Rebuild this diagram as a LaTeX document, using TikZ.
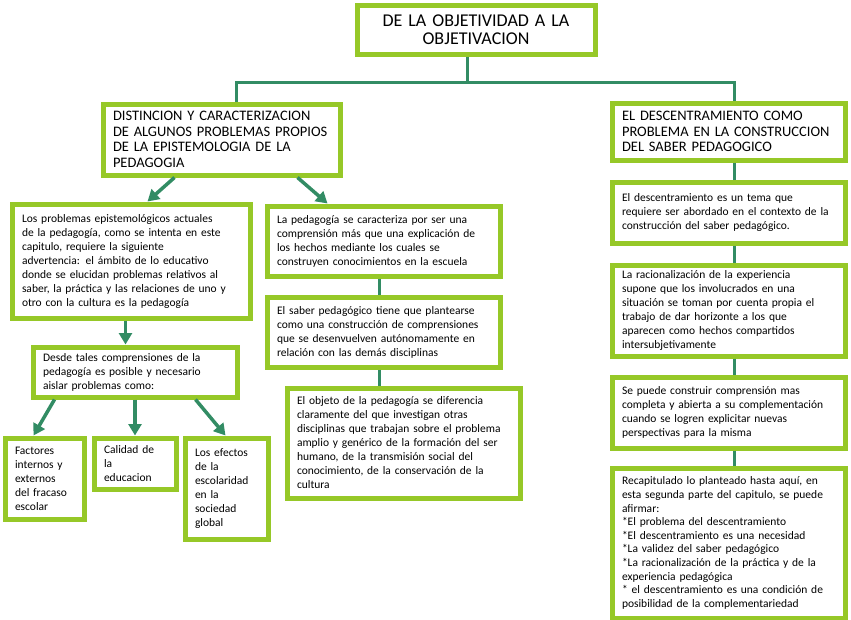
\documentclass[tikz,border=0pt]{standalone}
\usepackage{fontspec}
\setmainfont{Carlito}
\usepackage{xcolor}
\definecolor{verdecaja}{RGB}{150,200,40}
\definecolor{verdelinea}{RGB}{50,140,100}
\usepackage{tikz}
\usetikzlibrary{arrows.meta}

\begin{document}
\begin{tikzpicture}[
  x=1pt, y=-1pt,
  caja/.style={
    draw=verdecaja,
    line width=5pt,
    fill=white,
    anchor=north west,
    align=left,
    inner xsep=10pt,
    inner ysep=4pt,
    font=\fontsize{11.5}{14}\selectfont
  },
  cabeza/.style={caja,font=\fontsize{14.5}{15.5}\selectfont},
  flecha/.style={-{Triangle[length=4mm,width=4.5mm]},line width=3.5pt,verdelinea},
  linea/.style={line width=3pt,verdelinea}
]
\useasboundingbox (0,0) rectangle (851,619);
% titulo y cabeceras
\node[caja,align=center,text width=218pt,minimum height=49pt,font=\fontsize{18}{18}\selectfont] (titulo) at (354.5,2.5) {DE LA OBJETIVIDAD A LA\\OBJETIVACION};
\node[cabeza,text width=217pt,minimum height=71pt] (distincion) at (100.5,101.5) {DISTINCION Y CARACTERIZACION\\DE ALGUNOS PROBLEMAS PROPIOS\\DE LA EPISTEMOLOGIA DE LA\\PEDAGOGIA};
\node[cabeza,text width=213pt,minimum height=57pt] (descentramiento) at (609.5,100.5) {EL DESCENTRAMIENTO COMO\\PROBLEMA EN LA CONSTRUCCION\\DEL SABER PEDAGOGICO};
\coordinate (rama) at (467,82);
\draw[linea] (titulo.south -| rama) -- (rama);
\draw[linea] ([xshift=15pt]distincion.north) |- (rama) -| ([xshift=6pt]descentramiento.north);
% columna izquierda
\node[caja,text width=218pt,minimum height=114pt] (problemas) at (9.5,201.5) {Los problemas epistemológicos actuales\\de la pedagogía, como se intenta en este\\capitulo, requiere la siguiente\\advertencia: el ámbito de lo educativo\\donde se elucidan problemas relativos al\\saber, la práctica y las relaciones de uno y\\otro con la cultura es la pedagogía};
\node[caja,text width=184pt,minimum height=50pt] (desde) at (30.5,344.5) {Desde tales comprensiones de la\\pedagogía es posible y necesario\\aislar problemas como:};
\node[caja,text width=59pt,minimum height=81pt] (factores) at (2.5,435.5) {Factores\\internos y\\externos\\del fracaso\\escolar};
\node[caja,text width=62pt,minimum height=51pt] (calidad) at (91.5,435.5) {Calidad de\\la\\educacion};
\node[caja,text width=63pt,minimum height=101pt] (efectos) at (182.5,435.5) {Los efectos\\de la\\escolaridad\\en la\\sociedad\\global};
\draw[flecha] ([xshift=-47pt]distincion.south) -- ([xshift=16.5pt]problemas.north);
\draw[flecha] ([xshift=-5.5pt]problemas.south) -- ([xshift=-5.5pt]problemas.south |- desde.north);
\draw[flecha] ([xshift=-80.5pt]desde.south) -- ([xshift=-11pt]factores.north);
\draw[flecha] (desde.south) -- (calidad.north);
\draw[flecha] ([xshift=60.5pt]desde.south) -- ([xshift=-1pt]efectos.north);
% columna central
\node[caja,text width=213pt,minimum height=70pt] (caracteriza) at (264.5,203.5) {La pedagogía se caracteriza por ser una\\comprensión más que una explicación de\\los hechos mediante los cuales se\\construyen conocimientos en la escuela};
\node[caja,text width=213pt,minimum height=70pt] (saber) at (264.5,294.5) {El saber pedagógico tiene que plantearse\\como una construcción de comprensiones\\que se desenvuelven autónomamente en\\relación con las demás disciplinas};
\node[caja,text width=213pt,minimum height=110pt] (objeto) at (284.5,385.5) {El objeto de la pedagogía se diferencia\\claramente del que investigan otras\\disciplinas que trabajan sobre el problema\\amplio y genérico de la formación del ser\\humano, de la transmisión social del\\conocimiento, de la conservación de la\\cultura};
\draw[flecha] ([xshift=76pt]distincion.south) -- ([xshift=-56pt]caracteriza.north);
\draw[linea] ([xshift=-4pt]caracteriza.south) -- ([xshift=-4pt]saber.north);
\draw[linea] ([xshift=-4pt]saber.south) -- ([xshift=-4pt]saber.south |- objeto.north);
% columna derecha
\node[caja,text width=213pt,minimum height=61pt] (tema) at (609.5,179.5) {El descentramiento es un tema que\\requiere ser abordado en el contexto de la\\construcción del saber pedagógico.};
\node[caja,text width=213pt,minimum height=91pt] (racionalizacion) at (609.5,262.5) {La racionalización de la experiencia\\supone que los involucrados en una\\situación se toman por cuenta propia el\\trabajo de dar horizonte a los que\\aparecen como hechos compartidos\\intersubjetivamente};
\node[caja,text width=213pt,minimum height=71pt] (comprension) at (609.5,374.5) {Se puede construir comprensión mas\\completa y abierta a su complementación\\cuando se logren explicitar nuevas\\perspectivas para la misma};
\node[caja,text width=213pt,minimum height=150pt,font=\fontsize{11.5}{13.6}\selectfont] (recapitulado) at (609.5,465.5) {Recapitulado lo planteado hasta aquí, en\\esta segunda parte del capitulo, se puede\\afirmar:\\{}*El problema del descentramiento\\{}*El descentramiento es una necesidad\\{}*La validez del saber pedagógico\\{}*La racionalización de la práctica y de la\\experiencia pedagógica\\{}* el descentramiento es una condición de\\posibilidad de la complementariedad};
\draw[linea] ([xshift=6pt]descentramiento.south) -- ([xshift=6pt]tema.north);
\draw[linea] ([xshift=6pt]tema.south) -- ([xshift=6pt]racionalizacion.north);
\draw[linea] ([xshift=6pt]racionalizacion.south) -- ([xshift=6pt]comprension.north);
\draw[linea] ([xshift=6pt]comprension.south) -- ([xshift=6pt]recapitulado.north);
\end{tikzpicture}
\end{document}
